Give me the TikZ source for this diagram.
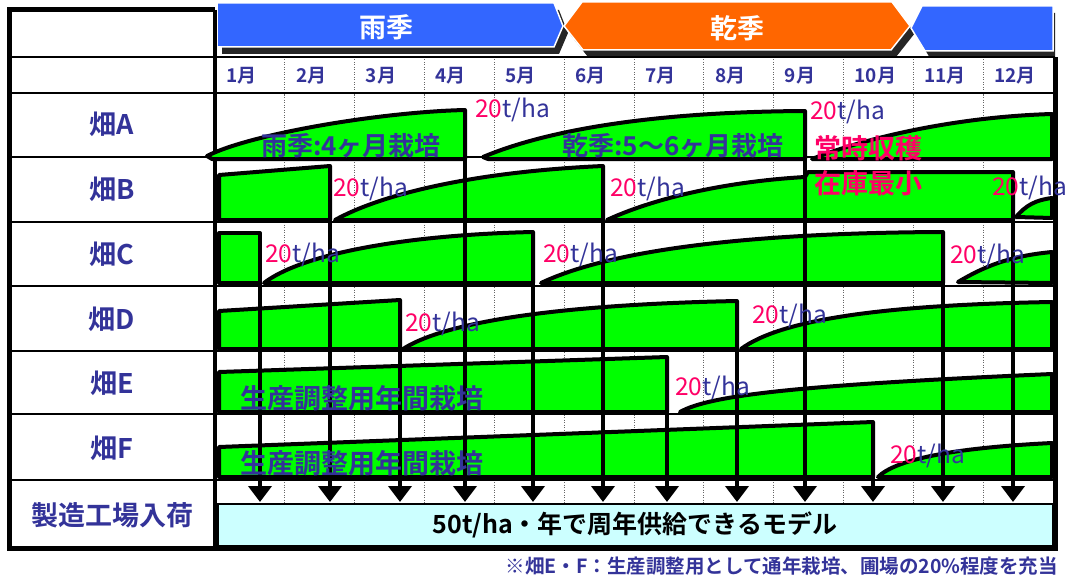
\documentclass[tikz,border=0pt]{standalone}
\usepackage{fontspec}
\setmainfont{Noto Sans CJK JP}[BoldFont={Noto Sans CJK JP Bold}]
\usetikzlibrary{arrows.meta}
\definecolor{navyblue}{HTML}{333399}
\definecolor{rosered}{HTML}{FF0066}
\definecolor{limegreen}{HTML}{00FF00}
\definecolor{rainblue}{HTML}{3366FF}
\definecolor{dryorange}{HTML}{FF6600}
\definecolor{palecyan}{HTML}{CCFFFF}
\begin{document}
\begin{tikzpicture}[x=1pt,y=-1pt,
  blk/.style={fill=limegreen, draw=black, line width=4pt, line join=round},
  harv/.style={draw=black, line width=4pt, -{Triangle[width=23pt,length=16pt]}},
  yld/.style={font=\fontsize{24.5}{24.5}\selectfont, inner sep=0pt, anchor=west},
  rowlab/.style={font=\bfseries\fontsize{27}{27}\selectfont, text=navyblue, inner sep=0pt},
  mon/.style={font=\bfseries\fontsize{19}{19}\selectfont, text=navyblue, inner sep=0pt, anchor=west},
  note/.style={font=\bfseries\fontsize{26}{26}\selectfont, text=navyblue, inner sep=0pt},
  alert/.style={font=\bfseries\fontsize{27}{27}\selectfont, text=rosered, inner sep=0pt},
  season/.style={font=\bfseries\fontsize{27}{27}\selectfont, text=white, inner sep=0pt},
  banner/.style={draw=white, line width=1.5pt, line join=miter},
  bshadow/.style={fill=black!85},
  gridline/.style={draw=black, line width=2.5pt},
  dots/.style={draw=black!60, line width=0.8pt, dash pattern=on 1pt off 1.5pt},
]
\useasboundingbox (0,0) rectangle (1069,578);

% ---------- season banners ----------
\begin{scope}[shift={(5,7)}]
  \fill[bshadow] (217,3) -- (554,3) -- (563,26) -- (554,47) -- (217,47) -- cycle;
  \fill[bshadow] (564,26) -- (582,2) -- (892,2) -- (910,26) -- (891,50) -- (583,50) -- cycle;
  \fill[bshadow] (911,28) -- (922,6) -- (1050,6) -- (1050,51) -- (925,51) -- cycle;
\end{scope}
\filldraw[banner, fill=rainblue] (217,3) -- (554,3) -- (563,26) -- (554,47) -- (217,47) -- cycle;
\filldraw[banner, fill=dryorange] (564,26) -- (582,2) -- (892,2) -- (910,26) -- (891,50) -- (583,50) -- cycle;
\filldraw[banner, fill=rainblue] (911,28) -- (922,6) -- (1053,6) -- (1053,51) -- (925,51) -- cycle;
\node[season] (rain) at (386,27) {雨季};
\node[season] (dry) at (737,28) {乾季};

% ---------- table grid ----------
\foreach \i in {1,...,11} {
  \draw[dots] ({215+69.83*\i},57) -- ({215+69.83*\i},504);
}
\foreach \yy in {57,93,157,222,286,351,414,480} {
  \draw[gridline] (9,\yy) -- (1055,\yy);
}
\draw[draw=black, line width=3.5pt] (215,10) -- (215,550);

% month labels
\foreach \m in {1,...,12} {
  \node[mon] (m\m) at ({215+69.83*(\m-1)+11},76) {\m 月};
}

% row labels
\node[rowlab] (fA) at (112,124) {畑A};
\node[rowlab] (fB) at (112,189) {畑B};
\node[rowlab] (fC) at (112,254) {畑C};
\node[rowlab] (fD) at (112,319) {畑D};
\node[rowlab] (fE) at (112,383) {畑E};
\node[rowlab] (fF) at (112,448) {畑F};
\node[rowlab, font=\bfseries\fontsize{27}{27}\selectfont] (fin) at (112,515) {製造工場入荷};

% ---------- crop blocks ----------
% field A
\draw[blk] (212,159) -- (207,156) .. controls (250,134) and (380,112) .. (465,110) -- (465,159) -- cycle;
\draw[blk] (488,159) -- (483,157) .. controls (540,133) and (640,112) .. (805,111) -- (805,159) -- cycle;
\draw[blk] (812,159) .. controls (860,140) and (950,117) .. (1052,114) -- (1052,159) -- cycle;
% field B
\draw[blk] (219,220) -- (219,175) -- (330,166) -- (330,220) -- cycle;
\draw[blk] (335,220) .. controls (380,195) and (470,172) .. (603,166) -- (603,220) -- cycle;
\draw[blk] (607,220) .. controls (650,200) and (720,182) .. (805,177) -- (808,172) -- (1013,172) -- (1013,220) -- cycle;
\draw[blk] (1016,217) .. controls (1026,205) and (1036,200) .. (1052,198) -- (1052,218) -- cycle;
% field C
\draw[blk] (219,283) -- (219,233) -- (260,233) -- (260,283) -- cycle;
\draw[blk] (264,283) .. controls (300,255) and (400,235) .. (533,232) -- (533,283) -- cycle;
\draw[blk] (541,283) .. controls (600,255) and (720,233) .. (943,232) -- (943,283) -- cycle;
\draw[blk] (958,282) .. controls (985,266) and (1010,256) .. (1052,252) -- (1052,283) -- cycle;
% field D
\draw[blk] (219,349) -- (219,311) -- (400,300) -- (400,349) -- cycle;
\draw[blk] (403,349) .. controls (440,325) and (540,305) .. (737,301) -- (737,349) -- cycle;
\draw[blk] (741,349) .. controls (780,320) and (880,305) .. (1052,302) -- (1052,349) -- cycle;
% field E
\draw[blk] (219,412) -- (219,372) -- (667,357) -- (667,412) -- cycle;
\draw[blk] (680,412) .. controls (710,395) and (800,385) .. (1052,374) -- (1052,412) -- cycle;
% field F
\draw[blk] (219,477) -- (219,447) -- (873,422) -- (873,477) -- cycle;
\draw[blk] (878,477) .. controls (895,460) and (950,448) .. (1052,443) -- (1052,477) -- cycle;

% ---------- outer border ----------
\draw[draw=black, line width=5pt, line join=miter] (215,10) -- (9,10) -- (9,548) -- (1055,548) -- (1055,57);

% ---------- delivery box ----------
\draw[draw=black, line width=1.5pt, fill=palecyan] (218,504) rectangle (1053,546);
\node[font=\bfseries\fontsize{25}{25}\selectfont, inner sep=0pt] (model) at (635,525) {50t/ha・年で周年供給できるモデル};

% ---------- harvest arrows ----------
\coordinate (hC1) at (260,233);  \coordinate (tC1) at (260,502);
\coordinate (hB1) at (330,166);  \coordinate (tB1) at (330,502);
\coordinate (hD1) at (400,300);  \coordinate (tD1) at (400,502);
\coordinate (hA1) at (465,110);  \coordinate (tA1) at (465,502);
\coordinate (hC2) at (533,232);  \coordinate (tC2) at (533,502);
\coordinate (hB2) at (603,166);  \coordinate (tB2) at (603,502);
\coordinate (hE1) at (667,357);  \coordinate (tE1) at (667,502);
\coordinate (hD2) at (737,301);  \coordinate (tD2) at (737,502);
\coordinate (hA2) at (805,111);  \coordinate (tA2) at (805,502);
\coordinate (hF1) at (873,422);  \coordinate (tF1) at (873,502);
\coordinate (hC3) at (943,232);  \coordinate (tC3) at (943,502);
\coordinate (hB3) at (1013,172); \coordinate (tB3) at (1013,502);
\foreach \h in {C1,B1,D1,A1,C2,B2,E1,D2,A2,F1,C3,B3} {
  \draw[harv] (h\h) -- (t\h);
}

% ---------- yield labels ----------
\newcommand{\yieldtxt}{{\color{rosered}20}{\color{navyblue}t/ha}}
\node[yld] (yA1) at (475,110) {\yieldtxt};
\node[yld] (yA2) at (810,112) {\yieldtxt};
\node[yld] (yB1) at (333,189) {\yieldtxt};
\node[yld] (yB2) at (610,189) {\yieldtxt};
\node[yld] (yB3) at (992,188) {\yieldtxt};
\node[yld] (yC1) at (265,255) {\yieldtxt};
\node[yld] (yC2) at (543,255) {\yieldtxt};
\node[yld] (yC3) at (950,256) {\yieldtxt};
\node[yld] (yD1) at (405,324) {\yieldtxt};
\node[yld] (yD2) at (752,316) {\yieldtxt};
\node[yld] (yE1) at (675,388) {\yieldtxt};
\node[yld] (yF1) at (890,456) {\yieldtxt};

% ---------- notes inside rows ----------
\node[note] (rainnote) at (351,146) {雨季:4ヶ月栽培};
\node[note] (drynote) at (673,146) {乾季:5～6ヶ月栽培};
\node[alert] (always) at (868,148) {常時収穫};
\node[alert] (stock) at (868,183) {在庫最小};
\node[note, font=\bfseries\fontsize{27}{27}\selectfont] (adjE) at (362,398) {生産調整用年間栽培};
\node[note, font=\bfseries\fontsize{27}{27}\selectfont] (adjF) at (362,463) {生産調整用年間栽培};

% ---------- footnote ----------
\node[font=\bfseries\fontsize{19.5}{19.5}\selectfont, text=navyblue, inner sep=0pt, anchor=east] (foot) at (1058,566) {※畑E・F：生産調整用として通年栽培、圃場の20\%程度を充当};
\end{tikzpicture}
\end{document}
